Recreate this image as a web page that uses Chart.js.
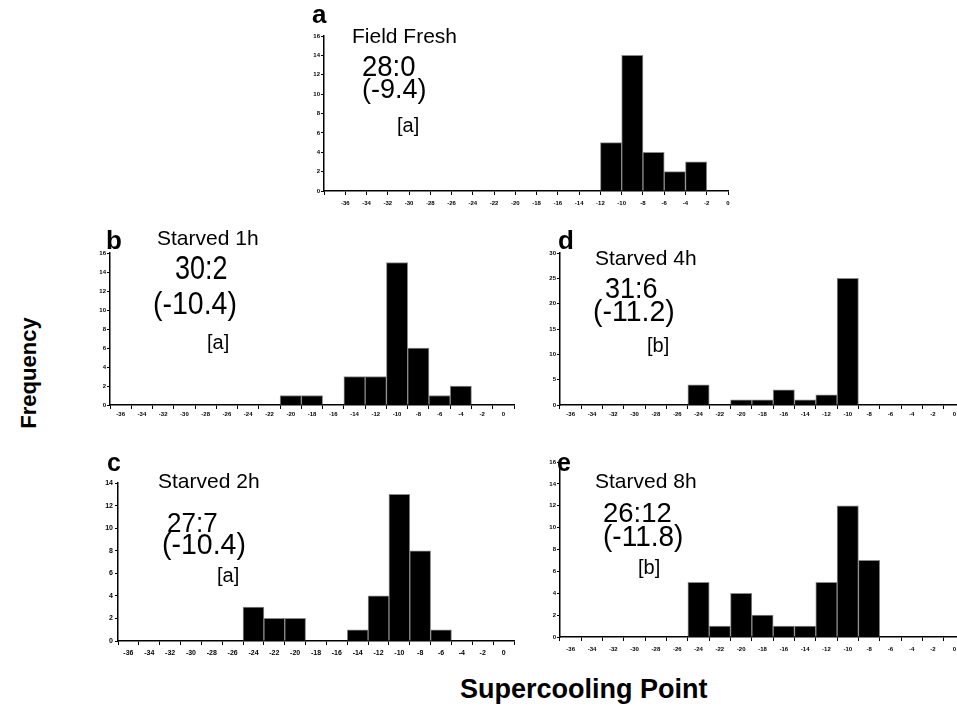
<!DOCTYPE html>
<html>
<head>
<meta charset="utf-8">
<script src="https://cdn.jsdelivr.net/npm/chart.js@4.4.0/dist/chart.umd.min.js"></script>
<style>
  html, body { margin: 0; padding: 0; background: #fff; overflow: hidden; }
  body { width: 957px; height: 706px; position: relative; font-family: "Liberation Sans", Arial, sans-serif; color: #000; }
  canvas { position: absolute; }
  .txt { position: absolute; white-space: nowrap; line-height: 1; transform-origin: 0 0; }
</style>
</head>
<body>
<script>
// bins of supercooling point (deg C), same for every panel
var binLabels = ['-36', '-34', '-32', '-30', '-28', '-26', '-24', '-22', '-20', '-18',
                 '-16', '-14', '-12', '-10', '-8', '-6', '-4', '-2', '0'];

// frequencies per bin
var countsFieldFresh = [0, 0, 0, 0, 0, 0, 0, 0, 0, 0, 0, 0, 0, 5, 14, 4, 2, 3, 0];
var countsStarved1h  = [0, 0, 0, 0, 0, 0, 0, 0, 1, 1, 0, 3, 3, 15, 6, 1, 2, 0, 0];
var countsStarved2h  = [0, 0, 0, 0, 0, 0, 3, 2, 2, 0, 0, 1, 4, 13, 8, 1, 0, 0, 0];
var countsStarved4h  = [0, 0, 0, 0, 0, 0, 4, 0, 1, 1, 3, 1, 2, 25, 0, 0, 0, 0, 0];
var countsStarved8h  = [0, 0, 0, 0, 0, 0, 5, 1, 4, 2, 1, 1, 5, 12, 7, 0, 0, 0, 0];

var Y_W = 30, X_H = 26, PAD_T = 8, PAD_R = 12;
var FONT = '"Liberation Sans", Arial, sans-serif';

function addText(str, x, capTop, size, opts) {
    opts = opts || {};
    var sy = opts.sy || 1;
    var d = document.createElement('div');
    d.className = 'txt';
    d.textContent = str;
    d.style.fontSize = size + 'px';
    d.style.fontWeight = opts.bold ? 'bold' : 'normal';
    d.style.left = x + 'px';
    d.style.top = (capTop - (opts.xh ? 0.3275 : 0.13) * size * sy) + 'px';
    if (sy !== 1) d.style.transform = 'scaleY(' + sy + ')';
    document.body.appendChild(d);
    return d;
}

function makePanel(p) {
    var l = p.box[0], t = p.box[1], r = p.box[2], b = p.box[3];
    var cv = document.createElement('canvas');
    var w = (r - l) + Y_W + PAD_R, h = (b - t) + PAD_T + X_H;
    cv.width = w; cv.height = h;
    cv.style.width = w + 'px'; cv.style.height = h + 'px';
    cv.style.left = (l - Y_W) + 'px';
    cv.style.top = (t - PAD_T) + 'px';
    document.body.appendChild(cv);

    return new Chart(cv.getContext('2d'), {
        type: 'bar',
        data: {
            labels: binLabels,
            datasets: [{
                data: p.counts,
                backgroundColor: '#000',
                borderColor: '#8a8a8a',
                borderWidth: 1,
                barPercentage: 1,
                categoryPercentage: 1
            }]
        },
        options: {
            responsive: false,
            animation: false,
            devicePixelRatio: 1,
            layout: { padding: { top: PAD_T, right: PAD_R, left: 0, bottom: 0 } },
            plugins: { legend: { display: false }, tooltip: { enabled: false } },
            scales: {
                x: {
                    type: 'category',
                    offset: true,
                    afterFit: function (s) { s.height = X_H; },
                    grid: { offset: true, drawOnChartArea: false, drawTicks: true, tickLength: 4, color: '#000', lineWidth: 1 },
                    border: { color: '#000', width: 1.5 },
                    ticks: {
                        color: '#000', autoSkip: false, maxRotation: 0, minRotation: 0,
                        padding: p.xPad, labelOffset: p.labelOffset || 0,
                        font: { family: FONT, size: p.tickSize, weight: 'bold' }
                    }
                },
                y: {
                    min: 0, max: p.yMax,
                    afterFit: function (s) { s.width = Y_W; },
                    grid: { drawOnChartArea: false, drawTicks: true, tickLength: p.yTick, color: '#000', lineWidth: 1 },
                    border: { color: '#000', width: 1.5 },
                    ticks: {
                        stepSize: p.yStep, color: '#000', padding: p.yPad,
                        font: { family: FONT, size: p.tickSize, weight: 'bold' }
                    }
                }
            }
        }
    });
}

makePanel({ box: [324, 36, 728, 191], counts: countsFieldFresh, yMax: 16, yStep: 2, tickSize: 6, xPad: 5, yTick: 3, yPad: 1, labelOffset: 10.6 });
makePanel({ box: [110, 253, 514, 405], counts: countsStarved1h, yMax: 16, yStep: 2, tickSize: 6, xPad: 2, yTick: 3, yPad: 1 });
makePanel({ box: [118, 483, 514, 641], counts: countsStarved2h, yMax: 14, yStep: 2, tickSize: 7, xPad: 4, yTick: 3, yPad: 2 });
makePanel({ box: [560, 253, 965, 405], counts: countsStarved4h, yMax: 30, yStep: 5, tickSize: 6, xPad: 2, yTick: 3, yPad: 1 });
makePanel({ box: [560, 462, 965, 637], counts: countsStarved8h, yMax: 16, yStep: 2, tickSize: 6, xPad: 5, yTick: 3, yPad: 1 });

// panel letters
addText('a', 312, 10, 26, { bold: true, xh: true });
addText('b', 106, 230, 26, { bold: true });
addText('c', 107, 458, 25, { bold: true, xh: true });
addText('d', 558, 230, 26, { bold: true });
addText('e', 557, 458, 25, { bold: true, xh: true });

// panel annotations
addText('Field Fresh', 352, 28, 21);
addText('28:0', 362, 55, 27.5, { sy: 1.1 });
addText('(-9.4)', 362, 80, 27);
addText('[a]', 397, 118, 20);

addText('Starved 1h', 157, 230, 21);
addText('30:2', 175, 257, 27, { sy: 1.2 });
addText('(-10.4)', 153, 291, 28.5, { sy: 1.12 });
addText('[a]', 207, 335, 20);

addText('Starved 2h', 158, 473, 21);
addText('27:7', 167, 512, 26, { sy: 1.08 });
addText('(-10.4)', 162, 533, 28.5, { sy: 1.05 });
addText('[a]', 217, 568, 20);

addText('Starved 4h', 595, 250, 21);
addText('31:6', 605, 278, 27, { sy: 1.1 });
addText('(-11.2)', 593, 300, 28.5, { sy: 1.03 });
addText('[b]', 647, 338, 20);

addText('Starved 8h', 595, 473, 21);
addText('26:12', 603, 503, 27.5);
addText('(-11.8)', 603, 525, 28, { sy: 1.07 });
addText('[b]', 638, 560, 20);

// axis titles
var yt = addText('Frequency', 0, 0, 22, { bold: true });
yt.style.left = '29px';
yt.style.top = '373px';
yt.style.transformOrigin = '50% 50%';
yt.style.transform = 'translate(-50%, -50%) rotate(-90deg)';
addText('Supercooling Point', 460, 680, 27, { bold: true });
</script>
</body>
</html>
